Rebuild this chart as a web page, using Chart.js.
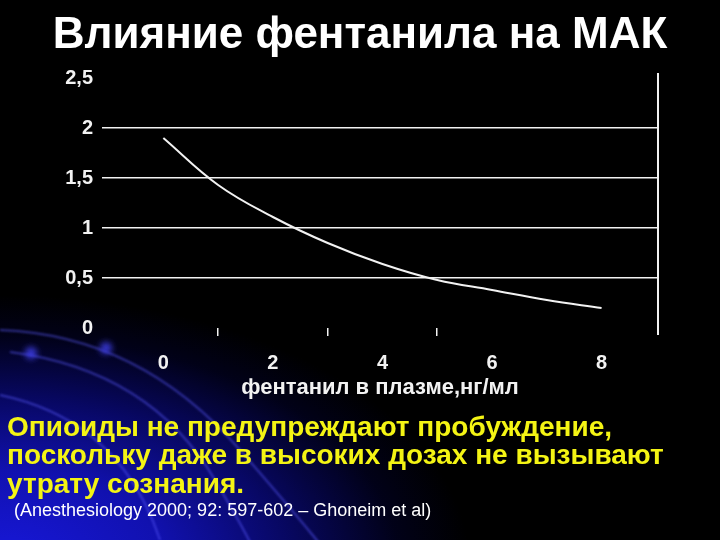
<!DOCTYPE html>
<html>
<head>
<meta charset="utf-8">
<script src="https://cdn.jsdelivr.net/npm/chart.js@4/dist/chart.umd.min.js"></script>
<style>
  html, body { margin: 0; padding: 0; }
  body {
    width: 720px; height: 540px; overflow: hidden; position: relative;
    background:
      radial-gradient(ellipse 470px 270px at 0px 565px, rgba(24,24,220,1) 0%, rgba(18,18,185,0.95) 35%, rgba(10,10,130,0.75) 62%, rgba(3,3,60,0.4) 85%, rgba(0,0,0,0) 100%),
      #000;
    font-family: "Liberation Sans", Arial, sans-serif;
  }
  #deco { position: absolute; left: 0; top: 0; }
  #chartWrap { position: absolute; left: 0; top: 0; width: 720px; height: 540px; }
  .title {
    position: absolute; left: 0; width: 720px; top: 11px; text-align: center;
    color: #fff; font-weight: bold; font-size: 44px; line-height: 44px; white-space: nowrap;
  }
  .note {
    position: absolute; left: 7px; top: 413px; color: #f4f414; font-weight: bold;
    font-size: 28px; line-height: 28.3px; white-space: nowrap;
  }
  .cite {
    position: absolute; left: 14px; top: 501px; color: #fff; font-size: 18px;
    line-height: 18px; white-space: nowrap;
  }
</style>
</head>
<body>
<svg id="deco" width="720" height="540">
  <defs>
    <filter id="bl" x="-50%" y="-50%" width="200%" height="200%"><feGaussianBlur stdDeviation="1.2"/></filter>
    <filter id="gl" x="-100%" y="-100%" width="300%" height="300%"><feGaussianBlur stdDeviation="3"/></filter>
  </defs>
  <g fill="none" stroke="rgba(90,90,255,0.5)" stroke-width="2" filter="url(#bl)">
    <path d="M 0 330 Q 140 335 240 450 T 330 560"/>
    <path d="M 10 352 Q 150 370 215 480 T 250 560"/>
    <path d="M 0 395 Q 120 420 160 540"/>
  </g>
  <circle cx="31" cy="353" r="6" fill="rgba(70,70,255,0.8)" filter="url(#gl)"/>
  <circle cx="106" cy="348" r="6" fill="rgba(70,70,255,0.8)" filter="url(#gl)"/>
</svg>
<div id="chartWrap"><canvas id="c" width="720" height="540"></canvas></div>
<div class="title">Влияние фентанила на МАК</div>
<div class="note">Опиоиды не предупреждают пробуждение,<br>поскольку даже в высоких дозах не вызывают<br>утрату сознания.</div>
<div class="cite">(Anesthesiology 2000; 92: 597-602 – Ghoneim et al)</div>
<script>
// ---- data ----
const categories = [0, 1, 2, 3, 4, 5, 6, 7, 8];            // фентанил в плазме, нг/мл
const macValues  = [1.90, 1.43, 1.11, 0.85, 0.64, 0.48, 0.38, 0.28, 0.20];
const xTickLabels = ['0', '', '2', '', '4', '', '6', '', '8'];
const yTickValues = [0, 0.5, 1, 1.5, 2, 2.5];
const yTickLabels = ['0', '0,5', '1', '1,5', '2', '2,5'];
const xAxisTitle = 'фентанил в плазме,нг/мл';
const tickMarkValues = [1, 3, 5];

const WHITE = '#f2f2f2';
const tickFont = { family: '"Liberation Sans", Arial, sans-serif', size: 20, weight: 'bold' };

const rightLine = {
  id: 'rightLine',
  afterDraw(chart) {
    const { ctx, chartArea } = chart;
    ctx.save();
    ctx.strokeStyle = WHITE;
    ctx.lineWidth = 2;
    ctx.beginPath();
    ctx.moveTo(chartArea.right, chartArea.top - 5);
    ctx.lineTo(chartArea.right, chartArea.bottom + 7);
    ctx.stroke();
    ctx.restore();
  }
};

new Chart(document.getElementById('c'), {
  type: 'line',
  data: {
    datasets: [{
      data: categories.map((x, i) => ({ x: x, y: macValues[i] })),
      borderColor: WHITE,
      borderWidth: 2,
      pointRadius: 0,
      fill: false,
      tension: 0.4
    }]
  },
  options: {
    responsive: false,
    animation: false,
    events: [],
    layout: { padding: { left: 0, right: 62, top: 78, bottom: 139 } },
    plugins: { legend: { display: false }, tooltip: { enabled: false }, title: { display: false } },
    scales: {
      x: {
        type: 'linear',
        min: -1.12,
        max: 9.03,
        afterBuildTicks: (scale) => { scale.ticks = categories.map(v => ({ value: v })); },
        afterFit: (scale) => { scale.height = 73; },
        ticks: {
          autoSkip: false,
          maxRotation: 0,
          color: WHITE,
          font: tickFont,
          padding: 15,
          callback: (v) => { const i = categories.indexOf(v); return i >= 0 ? xTickLabels[i] : ''; }
        },
        grid: {
          drawOnChartArea: false,
          drawTicks: true,
          tickLength: 8,
          lineWidth: 1.5,
          color: (ctx) => (ctx.tick && tickMarkValues.includes(ctx.tick.value)) ? WHITE : 'rgba(0,0,0,0)'
        },
        border: { display: false },
        title: {
          display: true,
          text: xAxisTitle,
          color: WHITE,
          font: { family: '"Liberation Sans", Arial, sans-serif', size: 22, weight: 'bold' },
          padding: { top: 0, bottom: 0 }
        }
      },
      y: {
        min: 0,
        max: 2.5,
        afterBuildTicks: (scale) => { scale.ticks = yTickValues.map(v => ({ value: v })); },
        afterFit: (scale) => { scale.width = 102; },
        ticks: {
          color: WHITE,
          font: tickFont,
          padding: 9,
          callback: (v) => { const i = yTickValues.indexOf(v); return i >= 0 ? yTickLabels[i] : ''; }
        },
        grid: {
          drawTicks: false,
          lineWidth: 1.6,
          color: (ctx) => (ctx.tick && ctx.tick.value > 0 && ctx.tick.value < 2.5) ? WHITE : 'rgba(0,0,0,0)'
        },
        border: { display: false }
      }
    }
  },
  plugins: [rightLine]
});
</script>
</body>
</html>
